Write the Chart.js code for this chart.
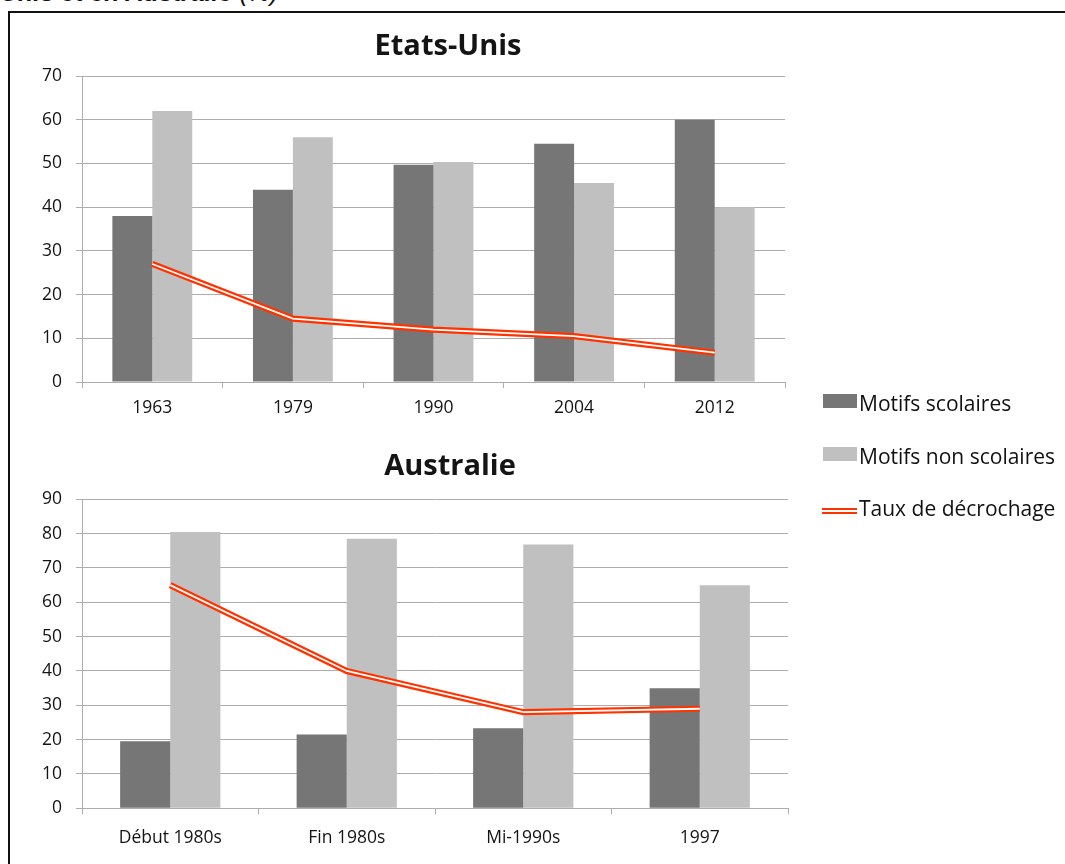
<!DOCTYPE html>
<html>
<head>
<meta charset="utf-8">
<script src="https://cdn.jsdelivr.net/npm/chart.js@4/dist/chart.umd.min.js"></script>
<style>
  html, body { margin: 0; padding: 0; background: #fff; }
  body { width: 1065px; height: 864px; position: relative; overflow: hidden; font-family: "Open Sans", sans-serif; }
  #heading { position: absolute; left: 0; top: -22px; font: italic bold 25px "Liberation Sans", sans-serif; color: #111; white-space: nowrap; }
  #heading span { font-weight: normal; }
  #frame { position: absolute; left: 8px; top: 11px; width: 1120px; height: 900px; border: 2px solid #111; box-sizing: border-box; }
  canvas { position: absolute; left: 0; }
  #cUS { top: 0; }
  #cAU { top: 430px; }
  #legend { position: absolute; left: 822px; top: 389px; font: 21px "Open Sans", sans-serif; color: #111; }
  .item { position: relative; height: 52.5px; }
  .sw { position: absolute; left: 1px; top: 5px; width: 34px; height: 14px; }
  .sw.line { left: 0; top: 14px; width: 35px; height: 1.8px; border-top: 2px solid #ff3300; border-bottom: 2px solid #ff3300; background: #fff; }
  .lbl { position: absolute; left: 37px; top: 0; line-height: 28px; white-space: nowrap; }
</style>
</head>
<body>
<div id="heading">Unis et en Australie <span>(%)</span></div>
<div id="frame"></div>
<canvas id="cUS" width="896" height="430"></canvas>
<canvas id="cAU" width="900" height="434"></canvas>
<div id="legend"></div>
<script>
// ---- Data ----
const seriesNames = ['Motifs scolaires', 'Motifs non scolaires', 'Taux de décrochage'];

const usTitle = 'Etats-Unis';
const usYears = ['1963', '1979', '1990', '2004', '2012'];
const usScolaires = [38, 44, 49.7, 54.5, 60];
const usNonScolaires = [62, 56, 50.3, 45.5, 40];
const usDecrochage = [27, 14.5, 12, 10.5, 6.7];
const usTicks = [0, 10, 20, 30, 40, 50, 60, 70];

const auTitle = 'Australie';
const auPeriods = ['Début 1980s', 'Fin 1980s', 'Mi-1990s', '1997'];
const auScolaires = [19.5, 21.5, 23.3, 35];
const auNonScolaires = [80.5, 78.5, 76.8, 65];
const auDecrochage = [65, 40, 28, 29];
const auTicks = [0, 10, 20, 30, 40, 50, 60, 70, 80, 90];

// ---- Styles ----
const DARK = '#767676';
const LIGHT = '#c0c0c0';
const RED = '#ff3300';
const GRID = '#adadad';
const TEXT = '#141414';

function makeChart(id, title, labels, s1, s2, line, ticks, lay) {
  const ymax = ticks[ticks.length - 1];
  return new Chart(document.getElementById(id), {
    type: 'bar',
    data: {
      labels: labels,
      datasets: [
        { type: 'line', label: seriesNames[2] + ' (centre)', data: line, borderColor: '#ffffff', borderWidth: 1.8,
          pointRadius: 0, tension: 0, order: 0, fill: false },
        { type: 'line', label: seriesNames[2], data: line, borderColor: RED, borderWidth: 6.2,
          pointRadius: 0, tension: 0, order: 1, fill: false },
        { label: seriesNames[0], data: s1, backgroundColor: DARK, order: 2 },
        { label: seriesNames[1], data: s2, backgroundColor: LIGHT, order: 3 }
      ]
    },
    options: {
      responsive: false,
      animation: false,
      devicePixelRatio: 1,
      layout: { padding: { left: 0, top: 0, right: 0, bottom: lay.bottom } },
      datasets: { bar: { barPercentage: 1, categoryPercentage: 0.568 } },
      plugins: {
        legend: { display: false },
        tooltip: { enabled: false },
        title: {
          display: true, text: title, color: TEXT,
          font: { family: 'Open Sans', size: 29, weight: 'bold', lineHeight: 1.2 },
          padding: { top: lay.tTop, bottom: lay.tBottom }
        }
      },
      scales: {
        x: {
          offset: true,
          grid: { drawOnChartArea: false, drawTicks: true, tickLength: 6, color: GRID, offset: true },
          border: { color: GRID, width: 1 },
          ticks: { color: TEXT, font: { family: 'Open Sans', size: 17.5 }, padding: lay.xPad, maxRotation: 0 },
          afterFit: s => { s.height = 40; }
        },
        y: {
          min: 0, max: ymax,
          afterBuildTicks: s => { s.ticks = ticks.map(v => ({ value: v })); },
          grid: { color: GRID, lineWidth: 1, drawTicks: true, tickLength: 6 },
          border: { color: GRID, width: 1 },
          ticks: { color: TEXT, font: { family: 'Open Sans', size: 17.5 }, padding: 14 },
          afterFit: s => { s.width = 82; }
        },
        yRight: {
          position: 'right',
          min: 0, max: ymax,
          grid: { drawOnChartArea: false, drawTicks: false },
          border: { display: false },
          ticks: { display: false },
          afterFit: s => { s.width = lay.right; }
        }
      }
    }
  });
}

makeChart('cUS', usTitle, usYears, usScolaires, usNonScolaires, usDecrochage, usTicks,
  { right: 111, bottom: 8, tTop: 29, tBottom: 12.2, xPad: 10 });
makeChart('cAU', auTitle, auPeriods, auScolaires, auNonScolaires, auDecrochage, auTicks,
  { right: 112, bottom: 15.7, tTop: 19, tBottom: 15.5, xPad: 13 });

// ---- Shared legend ----
const legend = document.getElementById('legend');
const swatches = [DARK, LIGHT, null];
seriesNames.forEach((name, i) => {
  const item = document.createElement('div');
  item.className = 'item';
  const sw = document.createElement('div');
  sw.className = 'sw' + (swatches[i] ? '' : ' line');
  if (swatches[i]) sw.style.background = swatches[i];
  const lbl = document.createElement('div');
  lbl.className = 'lbl';
  lbl.textContent = name;
  item.appendChild(sw);
  item.appendChild(lbl);
  legend.appendChild(item);
});
</script>
</body>
</html>
